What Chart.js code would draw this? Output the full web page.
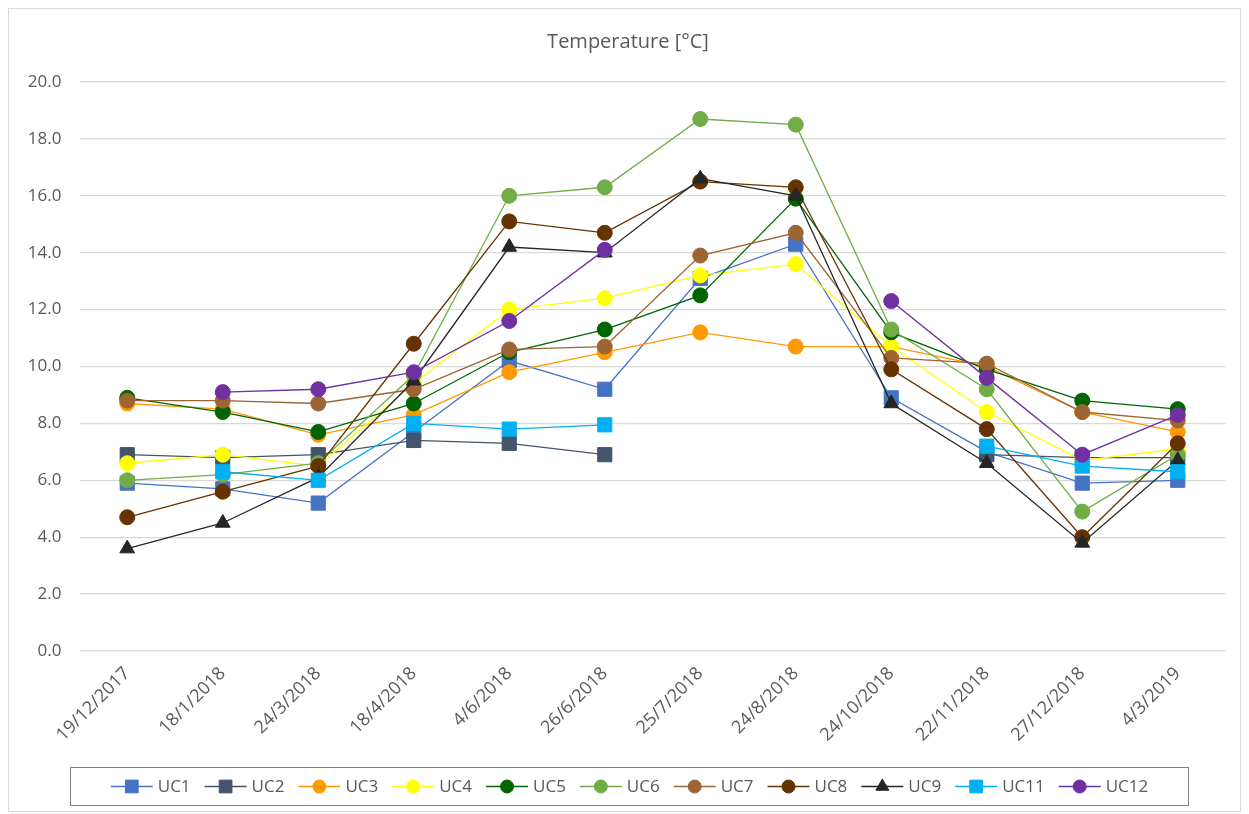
<!DOCTYPE html>
<html><head><meta charset="utf-8">
<script src="https://cdn.jsdelivr.net/npm/chart.js@4/dist/chart.umd.min.js"></script>
<style>html,body{margin:0;padding:0;background:#fff;overflow:hidden}#wrap{position:relative;width:1249px;height:814px}</style>
</head><body><div id="wrap"><canvas id="c" width="1249" height="814"></canvas></div>
<script>
const categories = ["19/12/2017","18/1/2018","24/3/2018","18/4/2018","4/6/2018","26/6/2018","25/7/2018","24/8/2018","24/10/2018","22/11/2018","27/12/2018","4/3/2019"];
const seriesNames = ["UC1","UC2","UC3","UC4","UC5","UC6","UC7","UC8","UC9","UC11","UC12"];
const UC1  = [5.9, 5.7, 5.2, 7.7, 10.2, 9.2, 13.1, 14.3, 8.9, 7.0, 5.9, 6.0];
const UC2  = [6.9, 6.8, 6.9, 7.4, 7.3, 6.9, null, null, null, 6.9, 6.8, 6.8];
const UC3  = [8.7, 8.5, 7.6, 8.3, 9.8, 10.5, 11.2, 10.7, 10.7, 10.0, 8.4, 7.7];
const UC4  = [6.6, 6.9, 6.5, 9.4, 12.0, 12.4, 13.2, 13.6, 10.7, 8.4, 6.7, 7.1];
const UC5  = [8.9, 8.4, 7.7, 8.7, 10.5, 11.3, 12.5, 15.9, 11.2, 9.9, 8.8, 8.5];
const UC6  = [6.0, 6.2, 6.6, 9.7, 16.0, 16.3, 18.7, 18.5, 11.3, 9.2, 4.9, 6.9];
const UC7  = [8.8, 8.8, 8.7, 9.2, 10.6, 10.7, 13.9, 14.7, 10.3, 10.1, 8.4, 8.1];
const UC8  = [4.7, 5.6, 6.5, 10.8, 15.1, 14.7, 16.5, 16.3, 9.9, 7.8, 4.0, 7.3];
const UC9  = [3.6, 4.5, 6.1, 9.5, 14.2, 14.0, 16.6, 16.0, 8.7, 6.6, 3.8, 6.7];
const UC11 = [null, 6.3, 6.0, 8.0, 7.8, 7.95, null, null, null, 7.2, 6.5, 6.3];
const UC12 = [null, 9.1, 9.2, 9.8, 11.6, 14.1, null, null, 12.3, 9.6, 6.9, 8.3];
const yTicks = [0,2,4,6,8,10,12,14,16,18,20];
const titleText = "Temperature [°C]";

const values = [UC1,UC2,UC3,UC4,UC5,UC6,UC7,UC8,UC9,UC11,UC12];
const colors = ["#4472C4","#44546A","#FF9900","#FFFF00","#006400","#70AD47","#9C6533","#663300","#262626","#00B0F0","#7030A0"];
const styles = ["rect","rect","circle","circle","circle","circle","circle","circle","triangle","rect","circle"];
const FONT = "'Open Sans', sans-serif";

const datasets = seriesNames.map((n,i)=>({
  label:n, data:values[i], borderColor:colors[i], backgroundColor:colors[i],
  pointStyle:styles[i], pointRadius: styles[i]==='rect'?10:(styles[i]==='triangle'?8.5:7.5),
  pointBorderWidth:1, pointBorderColor:colors[i], pointBackgroundColor:colors[i],
  borderWidth:1.3, tension:0, spanGaps:false, order: seriesNames.length - i
}));

const decor = {
  id:'decor',
  beforeDraw(chart){
    const ctx = chart.ctx;
    ctx.save();
    ctx.fillStyle = '#fff'; ctx.fillRect(0,0,chart.width,chart.height);
    ctx.strokeStyle = '#D9D9D9'; ctx.lineWidth = 1;
    ctx.strokeRect(8.5, 8.5, 1232, 803);
    ctx.restore();
  },
  afterDraw(chart){
    const ctx = chart.ctx;
    ctx.save();
    ctx.fillStyle = '#595959';
    ctx.font = "20px " + FONT;
    ctx.textAlign = 'center'; ctx.textBaseline = 'middle';
    ctx.fillText(titleText, 628, 42);
    // legend
    const bx = 70.5, by = 767.5, bw = 1118, bh = 38;
    ctx.strokeStyle = '#7F7F7F'; ctx.lineWidth = 1;
    ctx.strokeRect(bx, by, bw, bh);
    ctx.font = "17px " + FONT;
    const lineLen = 42, gap1 = 5, gap2 = 14;
    const widths = seriesNames.map(n=>ctx.measureText(n).width);
    let total = widths.reduce((a,w)=>a+lineLen+gap1+w+gap2,0) - gap2;
    let x = bx + (bw - total)/2;
    const cy = by + bh/2;
    ctx.textAlign = 'left';
    chart.data.datasets.forEach((ds,i)=>{
      ctx.strokeStyle = ds.borderColor; ctx.lineWidth = 1.3;
      ctx.beginPath(); ctx.moveTo(x, cy); ctx.lineTo(x+lineLen, cy); ctx.stroke();
      ctx.fillStyle = ds.backgroundColor; ctx.strokeStyle = ds.borderColor; ctx.lineWidth = 1;
      const r = ds.pointStyle==='rect'?9:(ds.pointStyle==='triangle'?7.5:6.5);
      Chart.helpers.drawPoint(ctx, {pointStyle: ds.pointStyle, rotation:0, borderWidth:1, radius:r}, x+lineLen/2, cy);
      ctx.fillStyle = '#595959';
      ctx.fillText(ds.label, x+lineLen+gap1, cy+1);
      x += lineLen+gap1+widths[i]+gap2;
    });
    ctx.restore();
  }
};

new Chart(document.getElementById('c'), {
  type:'line',
  data:{labels:categories, datasets},
  options:{
    responsive:false, animation:false, devicePixelRatio:1,
    layout:{padding:{left:0, right:23.5, top:82, bottom:0}},
    plugins:{legend:{display:false}, title:{display:false}, tooltip:{enabled:false}},
    scales:{
      x:{
        offset:true,
        grid:{display:false, drawTicks:false},
        border:{display:false},
        ticks:{color:'#595959', font:{family:FONT, size:18}, minRotation:45, maxRotation:45, padding:12, autoSkip:false},
        afterFit(s){ s.height = 163; }
      },
      y:{
        min:0, max:20,
        afterBuildTicks(s){ s.ticks = yTicks.map(v=>({value:v})); },
        grid:{color:'#D9D9D9', lineWidth:1.3, drawTicks:false},
        border:{display:false},
        ticks:{color:'#595959', font:{family:FONT, size:17}, padding:18, callback:v=>Number(v).toFixed(1)},
        afterFit(s){ s.width = 79.5; }
      }
    }
  },
  plugins:[decor]
});
</script></body></html>
